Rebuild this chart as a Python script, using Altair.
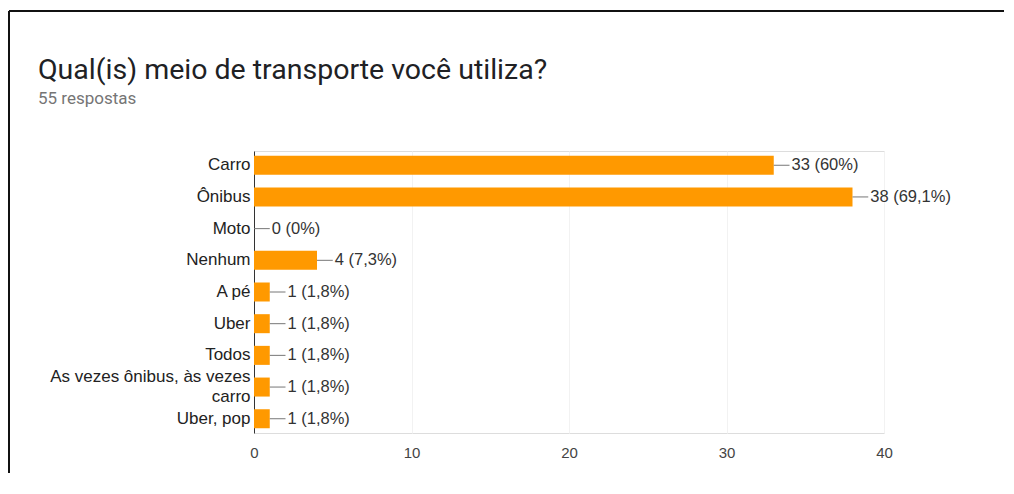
import altair as alt
import pandas as pd

categories = ["Carro", "Ônibus", "Moto", "Nenhum", "A pé", "Uber", "Todos",
              "As vezes ônibus, às vezes carro", "Uber, pop"]
counts = [33, 38, 0, 4, 1, 1, 1, 1, 1]
value_labels = ["33 (60%)", "38 (69,1%)", "0 (0%)", "4 (7,3%)", "1 (1,8%)",
                "1 (1,8%)", "1 (1,8%)", "1 (1,8%)", "1 (1,8%)"]
x_ticks = [0, 10, 20, 30, 40]

df = pd.DataFrame({"cat": categories, "n": counts, "lab": value_labels})

LABEL_FONT = "Liberation Sans"
ORANGE = "#FF9900"
LONG = "As vezes ônibus, às vezes carro"

y_enc = alt.Y(
    "cat:N", sort=categories, title=None,
    scale=alt.Scale(paddingInner=0.4, paddingOuter=0.15),
    axis=alt.Axis(
        ticks=False, domain=True, domainColor="#333333", domainWidth=1,
        labelFont=LABEL_FONT, labelFontSize=17, labelColor="#222222",
        labelPadding=4, labelLimit=400, labelLineHeight=20,
        labelOffset=alt.condition(f"datum.value == '{LONG}'", alt.value(-10), alt.value(0)),
        labelExpr=f"datum.label == '{LONG}' ? ['As vezes ônibus, às vezes', 'carro'] : datum.label",
    ),
)

x_scale = alt.Scale(domain=[0, 40], nice=False)

bars = alt.Chart(df).mark_bar(color=ORANGE).encode(
    x=alt.X("n:Q", scale=x_scale, title=None,
            axis=alt.Axis(values=x_ticks, ticks=False, domain=False,
                          grid=True, gridColor="#f2f2f2", labelFlush=False,
                          labelFont=LABEL_FONT, labelFontSize=15,
                          labelColor="#444444", labelPadding=12)),
    y=y_enc,
)

leaders = alt.Chart(df).transform_calculate(end="datum.n + 1").mark_rule(
    color="#777777", strokeWidth=1
).encode(
    x=alt.X("n:Q", scale=x_scale),
    x2="end:Q",
    y=alt.Y("cat:N", sort=categories),
)

texts = alt.Chart(df).transform_calculate(end="datum.n + 1").mark_text(
    align="left", baseline="middle", dx=2, font=LABEL_FONT, fontSize=16.5,
    color="#333333"
).encode(
    x=alt.X("end:Q", scale=x_scale),
    y=alt.Y("cat:N", sort=categories),
    text="lab:N",
)

frame_df = pd.DataFrame({"k": [0]})
frame_top = alt.Chart(frame_df).mark_rule(color="#111111", strokeWidth=2).encode(
    x=alt.value(-245), x2=alt.value(760), y=alt.value(-140)
)
frame_left = alt.Chart(frame_df).mark_rule(color="#111111", strokeWidth=2).encode(
    x=alt.value(-245), y=alt.value(-140), y2=alt.value(330)
)

chart = alt.layer(frame_top, frame_left, bars, leaders, texts).properties(
    width=630,
    height=282,
    autosize=alt.AutoSizeParams(type="none"),
    padding={"left": 246, "top": 143, "right": 120, "bottom": 40},
    title=alt.TitleParams(
        text="Qual(is) meio de transporte você utiliza?",
        subtitle="55 respostas",
        anchor="start", frame="group", dx=-216, offset=-97,
        font="Roboto", fontSize=28.5, fontWeight="normal", color="#202124",
        subtitleFont="Roboto", subtitleFontSize=17, subtitleColor="#757575",
        subtitlePadding=7,
    ),
).configure_view(stroke=None).configure(background="white")

chart.save("out.html", embed_options={"renderer": "svg", "actions": False})
